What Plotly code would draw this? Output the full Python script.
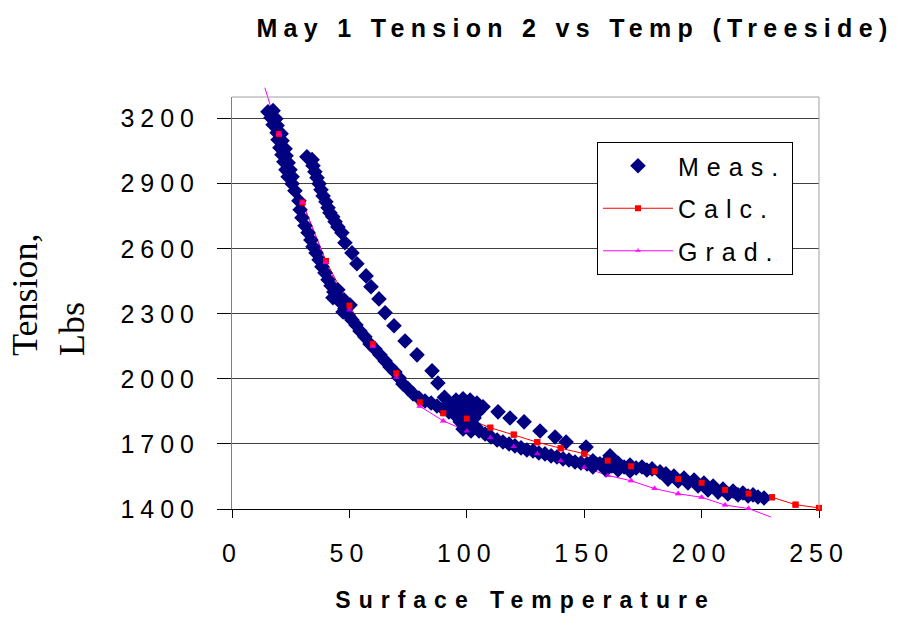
import plotly.graph_objects as go

# ---------------- data ----------------
meas_temp = [
    15.3, 17.5, 16.6, 18.7, 17.5, 19.2, 19.2, 20.9, 19.6, 21.3, 20.4, 22.6, 21.3, 23.0,
    22.1, 23.9, 23.0, 24.7, 23.9, 25.6, 25.6, 26.8, 28.5, 29.0, 29.8, 31.1, 32.4, 33.6,
    34.5, 35.8, 37.1, 38.3, 39.6, 40.9, 42.2, 43.4, 45.1, 46.4, 48.1, 49.4, 43.0, 45.1,
    47.7, 50.3, 47.3, 51.1, 52.8, 54.5, 56.6, 58.8, 60.9, 63.0, 65.2, 67.3, 69.4, 71.1,
    72.8, 75.0, 77.1, 79.6, 82.2, 84.8, 87.3, 89.9, 92.4, 95.0, 97.5, 100.1, 102.6, 105.2,
    107.8, 110.3, 112.9, 115.4, 118.0, 120.5, 123.1, 125.6, 128.2, 130.7, 133.3, 135.9,
    138.4, 141.0, 143.5, 146.1, 148.6, 151.2,
    153.7, 153.7, 156.7, 159.3, 159.3, 161.8, 164.4, 164.4, 167.0, 169.5, 169.5, 172.1,
    174.6, 176.7, 178.9, 182.3, 184.8, 185.7, 188.2, 190.0, 192.5, 194.2, 196.8, 198.5,
    201.0, 202.7, 204.9, 207.0, 209.1, 211.2, 213.4, 215.5, 217.6, 219.8, 221.9, 224.0, 226.6,
    31.9, 34.1, 34.5, 35.3, 36.2, 37.1, 37.9, 38.8, 40.0, 40.9, 41.7, 42.9, 43.9, 45.1,
    46.8, 48.1, 51.1, 53.2, 57.1, 59.2, 62.6, 65.2, 69.0, 73.7, 78.8, 85.2, 87.7, 90.5,
    92.4, 95.4, 98.4, 101.4, 104.3, 106.9, 95.0, 98.4, 101.8, 104.8, 96.3, 99.7, 103.1,
    97.2, 100.5, 103.9, 98.4, 101.8,
    113.3, 118.4, 124.4, 131.2, 137.6, 142.3, 150.8, 161.0,
]
meas_tension = [
    3232, 3237, 3204, 3200, 3172, 3168, 3135, 3131, 3103, 3098, 3066, 3061, 3034, 3029,
    3001, 2997, 2964, 2964, 2932, 2932, 2900, 2868, 2821, 2780, 2743, 2706, 2674, 2641,
    2609, 2581, 2549, 2517, 2489, 2457, 2429, 2401, 2378, 2351, 2323, 2295, 2374, 2411,
    2365, 2341, 2309, 2272, 2249, 2221, 2194, 2161, 2138, 2111, 2083, 2055, 2032, 2005,
    1977, 1954, 1931, 1912, 1898, 1889, 1875, 1862, 1848, 1834, 1815, 1797, 1778, 1760,
    1746, 1732, 1718, 1709, 1700, 1691, 1682, 1672, 1668, 1658, 1654, 1645,
    1640, 1631, 1626, 1617, 1612, 1608,
    1622, 1594, 1608, 1617, 1580, 1598, 1612, 1580, 1594, 1603, 1575, 1589,
    1594, 1580, 1585, 1571, 1562, 1538, 1552, 1529, 1543, 1520, 1534, 1506,
    1520, 1488, 1506, 1478, 1492, 1469, 1483, 1465, 1474, 1460, 1465, 1455, 1451,
    3024, 3011, 2983, 2955, 2928, 2900, 2872, 2844, 2817, 2789, 2766, 2748, 2725, 2701,
    2674, 2628, 2581, 2531, 2475, 2425, 2369, 2305, 2245, 2175, 2111, 2037, 1981, 1915,
    1885, 1903, 1908, 1903, 1889, 1871, 1866, 1871, 1862, 1848, 1834, 1834, 1820,
    1802, 1792, 1778, 1769, 1760,
    1848, 1820, 1802, 1760, 1732, 1709, 1686, 1645,
]

calc_temp = [20, 30, 40, 50, 60, 70, 80, 90, 100, 110, 120, 130, 140, 150, 160, 170,
             180, 190, 200, 210, 220, 230, 240, 250]
calc_tension = [3129, 2813, 2544, 2338, 2161, 2026, 1892, 1842, 1817, 1775, 1743, 1708,
                1680, 1655, 1623, 1597, 1574, 1538, 1521, 1488, 1471, 1454, 1420, 1405]

grad_temp = [14, 20, 30, 40, 50, 60, 70, 80, 90, 100, 110, 120, 130, 140, 150, 160, 170,
             180, 190, 200, 210, 220, 229.5]
grad_tension = [3343, 3129, 2813, 2538, 2318, 2149, 2008, 1874, 1806, 1760, 1729, 1688,
                1655, 1623, 1592, 1555, 1530, 1494, 1470, 1454, 1418, 1402, 1363]

x_tick_vals = [0, 50, 100, 150, 200, 250]
x_tick_labels = ["0", "50", "100", "150", "200", "250"]
y_tick_vals = [1400, 1700, 2000, 2300, 2600, 2900, 3200]
y_tick_labels = ["1400", "1700", "2000", "2300", "2600", "2900", "3200"]
x_range = [0, 250]
y_range = [1400, 3300]

# ---------------- layout geometry ----------------
W, H = 902, 617
ML, MR, MT, MB = 212, 62, 77, 88
PL, PR, PT, PB = 232, 819, 97, 509
pw, ph = W - ML - MR, H - MT - MB
xd = [(PL - ML) / pw, (PR - ML) / pw]
yd = [(H - MB - PB) / ph, (H - MB - PT) / ph]


def ext(r, d):
    span = (r[1] - r[0]) / (d[1] - d[0])
    return [r[0] - d[0] * span, r[1] + (1 - d[1]) * span]


def sp(text, px):
    return '<span style="letter-spacing:%gpx">%s</span>' % (px, text)


def px_to_paper(x, y):
    return (x - ML) / pw, (H - MB - y) / ph


SANS = "Arial, 'Liberation Sans', sans-serif"
SERIF = "'Times New Roman', 'Liberation Serif', serif"
NAVY, RED, MAG = "#000080", "#FF0000", "#FF00FF"

grad_marker_size = [0] + [6] * (len(grad_temp) - 2) + [0]
NOLINE = dict(width=0)

fig = go.Figure()
# empty trace so that the visible axis frame (x / y) is created
fig.add_trace(go.Scatter(x=[], y=[], xaxis="x", yaxis="y", showlegend=False,
                         hoverinfo="skip"))
# lines (drawn under the measured points)
fig.add_trace(go.Scatter(x=calc_temp, y=calc_tension, mode="lines+markers", name=sp("Calc.", 8),
                         xaxis="x2", yaxis="y2", legendrank=2, legendgroup="c",
                         line=dict(color=RED, width=1),
                         marker=dict(symbol="square", size=6, color=RED, line=NOLINE),
                         cliponaxis=False))
fig.add_trace(go.Scatter(x=grad_temp, y=grad_tension, mode="lines+markers", name=sp("Grad.", 8),
                         xaxis="x2", yaxis="y2", legendrank=3, legendgroup="g",
                         line=dict(color=MAG, width=1),
                         marker=dict(symbol="triangle-up", size=grad_marker_size, color=MAG,
                                     line=NOLINE),
                         cliponaxis=False))
fig.add_trace(go.Scatter(x=meas_temp, y=meas_tension, mode="markers", name=sp("Meas.", 8),
                         xaxis="x2", yaxis="y2", legendrank=1, legendgroup="m",
                         marker=dict(symbol="diamond", size=12, color=NAVY, line=NOLINE),
                         cliponaxis=False))
# markers drawn on top
fig.add_trace(go.Scatter(x=calc_temp, y=calc_tension, mode="markers", showlegend=False,
                         xaxis="x2", yaxis="y2", legendgroup="c",
                         marker=dict(symbol="square", size=6, color=RED, line=NOLINE),
                         cliponaxis=False))
fig.add_trace(go.Scatter(x=grad_temp, y=grad_tension, mode="markers", showlegend=False,
                         xaxis="x2", yaxis="y2", legendgroup="g",
                         marker=dict(symbol="triangle-up", size=grad_marker_size, color=MAG,
                                     line=NOLINE),
                         cliponaxis=False))

tick_font = dict(family=SANS, size=25, color="black")
ytx, yty = px_to_paper(48, 295)

fig.update_layout(
    template="none",
    width=W, height=H,
    margin=dict(l=ML, r=MR, t=MT, b=MB, pad=0),
    paper_bgcolor="white",
    plot_bgcolor="rgba(0,0,0,0)",
    showlegend=True,
    title=dict(text=sp("May 1 Tension 2 vs Temp (Treeside)", 6.3),
               font=dict(family=SANS, size=25, color="black", weight="bold"),
               x=575 / W, xanchor="center", xref="container",
               y=1 - 28 / H, yanchor="middle", yref="container"),
    xaxis=dict(domain=xd, range=x_range, anchor="y",
               tickmode="array", tickvals=x_tick_vals,
               ticktext=[sp(t, 6) for t in x_tick_labels],
               ticks="outside", ticklen=8, tickcolor="black", tickwidth=1,
               showline=True, linecolor="black", linewidth=1,
               showgrid=False, zeroline=False, tickfont=tick_font,
               ticklabelstandoff=14,
               title=dict(text=sp("Surface Temperature", 8),
                          font=dict(family=SANS, size=23, color="black", weight="bold"),
                          standoff=25),
               fixedrange=True),
    yaxis=dict(domain=yd, range=y_range, anchor="x",
               tickmode="array", tickvals=y_tick_vals,
               ticktext=[sp(t, 6) for t in y_tick_labels],
               ticks="outside", ticklen=14, tickcolor="black", tickwidth=1,
               showline=True, linecolor="#808080", linewidth=1,
               showgrid=True, gridcolor="#404040", gridwidth=1,
               zeroline=False, tickfont=tick_font,
               ticklabelstandoff=12,
               fixedrange=True),
    xaxis2=dict(domain=[0, 1], range=ext(x_range, xd), anchor="y2", visible=False,
                fixedrange=True),
    yaxis2=dict(domain=[0, 1], range=ext(y_range, yd), anchor="x2", visible=False,
                fixedrange=True),
    legend=dict(x=(597 - ML) / pw, y=(H - MB - 142) / ph, xanchor="left", yanchor="top",
                bgcolor="white", bordercolor="black", borderwidth=1,
                font=dict(family=SANS, size=25, color="black"),
                traceorder="grouped", tracegroupgap=7, itemwidth=70),
    annotations=[
        dict(text="Tension,<br>Lbs", textangle=-90, align="left",
             xref="paper", yref="paper", x=ytx, y=yty,
             xanchor="center", yanchor="middle", showarrow=False,
             font=dict(family=SERIF, size=36, color="black")),
    ],
    shapes=[
        dict(type="line", xref="x domain", yref="y domain", x0=0, x1=1, y0=1, y1=1,
             line=dict(color="#a0a0a0", width=1)),
        dict(type="line", xref="x domain", yref="y domain", x0=1, x1=1, y0=0, y1=1,
             line=dict(color="#a0a0a0", width=1)),
    ],
)

fig.write_html("out.html")
